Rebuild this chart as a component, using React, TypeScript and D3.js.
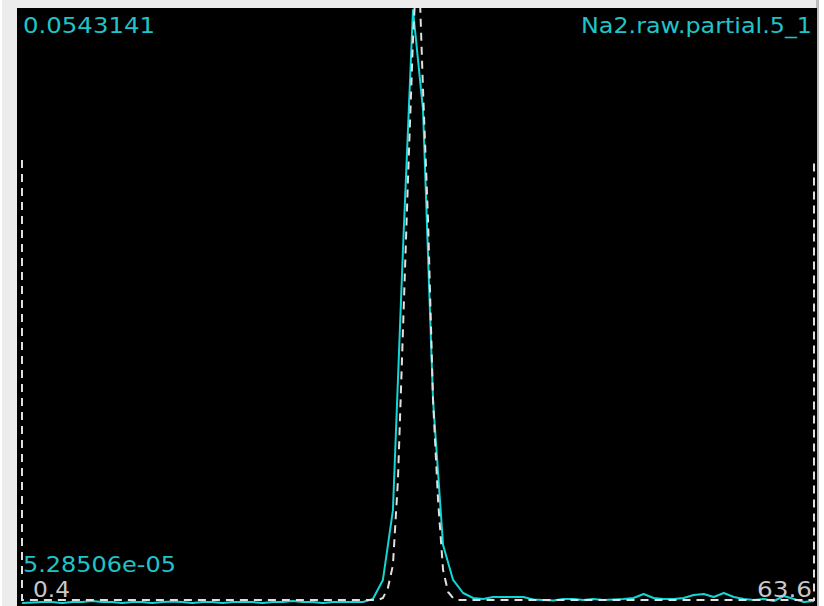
import React from "react";
import * as d3 from "d3";

// Spectrum samples (x in channel units, y in intensity)
const sampleX: number[] = Array.from({ length: 80 }, (_, i) => +(0.4 + i * 0.8).toFixed(1));
const sampleY: number[] = [
  0.0000529, 0.0000986, 0.000144, 0.000144, 0.0000529, 0.000144, 0.000144, 0.000236, 0.000144, 0.000144,
  0.0000529, 0.000144, 0.000144, 0.0000529, 0.000144, 0.00019, 0.000144, 0.0000529, 0.000144, 0.000144,
  0.0000529, 0.000144, 0.000144, 0.000144, 0.0000529, 0.000144, 0.000144, 0.000236, 0.000144, 0.000144,
  0.0000529, 0.000144, 0.000144, 0.000144, 0.000144, 0.000419, 0.00216, 0.00856, 0.0324, 0.0543141,
  0.0452, 0.0186, 0.00536, 0.00216, 0.000968, 0.00051, 0.000419, 0.000602, 0.000602, 0.000602,
  0.000602, 0.000373, 0.000327, 0.000282, 0.000419, 0.000419, 0.000327, 0.000419, 0.000327, 0.000373,
  0.000419, 0.00051, 0.000876, 0.00051, 0.000419, 0.000419, 0.00051, 0.000785, 0.000876, 0.000602,
  0.000968, 0.000602, 0.000419, 0.000327, 0.000419, 0.000236, 0.000693, 0.000419, 0.000144, 0.000236,
];

// Model curve (dashed)
const modelX: number[] = [
  0.4, 0.4, 28.8, 29.2, 29.6, 30.0, 30.4, 30.8, 31.2, 31.6, 32.0,
  32.4, 32.8, 33.2, 33.6, 34.0, 34.4, 34.8, 35.2, 63.6, 63.6,
];
const modelY: number[] = [
  0.0406, 0.000327, 0.000327, 0.00051, 0.00143, 0.00353, 0.0113, 0.025, 0.0388, 0.0516, 0.0607,
  0.047, 0.0351, 0.0186, 0.00948, 0.00307, 0.00106, 0.00051, 0.000327, 0.000327, 0.0406,
];

const xRange: [number, number] = [0.4, 63.6];
const yRange: [number, number] = [5.28506e-5, 0.0543141];
const xLabels: string[] = ["0.4", "63.6"];
const yLabels: string[] = ["5.28506e-05", "0.0543141"];
const title = "Na2.raw.partial.5_1";

const W = 824;
const H = 606;

export default function App() {
  const x = d3.scaleLinear().domain(xRange).range([22, 814]);
  const y = d3.scaleLinear().domain(yRange).range([603, 10]);

  const sampleLine = d3
    .line<number>()
    .x((_, i) => x(sampleX[i]))
    .y((d) => y(d))(sampleY) as string;

  const modelLine = d3
    .line<number>()
    .x((_, i) => x(modelX[i]))
    .y((d) => y(d))(modelY) as string;

  const font = "'DejaVu Sans', Verdana, sans-serif";
  const cyanText = "#1fc4c8";

  return (
    <svg
      width={W}
      height={H}
      style={{ position: "absolute", left: 0, top: 0, display: "block" }}
    >
      <defs>
        <clipPath id="panel">
          <rect x={17} y={8} width={800} height={H - 8} />
        </clipPath>
      </defs>
      <rect x={0} y={0} width={W} height={H} fill="#ffffff" />
      <rect x={2} y={0} width={817} height={H} fill="#ececec" />
      <rect x={816} y={0} width={3} height={H} fill="#bdbdbd" />
      <rect x={17} y={8} width={800} height={H - 8} fill="#000000" />

      <g clipPath="url(#panel)">
        <path d={sampleLine} fill="none" stroke="#12d6d6" strokeWidth={2} strokeLinejoin="round" />
        <path
          d={modelLine}
          fill="none"
          stroke="#e0e0e0"
          strokeWidth={2}
          strokeDasharray="8,6"
        />
      </g>

      <text x={23} y={33} fontFamily={font} fontSize={20.5} fill={cyanText} textLength={132} lengthAdjust="spacingAndGlyphs">
        {yLabels[1]}
      </text>
      <text x={812} y={33} fontFamily={font} fontSize={20.5} fill={cyanText} textAnchor="end" textLength={231} lengthAdjust="spacingAndGlyphs">
        {title}
      </text>
      <text x={23} y={572} fontFamily={font} fontSize={20.5} fill={cyanText} textLength={153} lengthAdjust="spacingAndGlyphs">
        {yLabels[0]}
      </text>
      <text x={33} y={597} fontFamily={font} fontSize={20.5} fill="#c8c8c8" textLength={37} lengthAdjust="spacingAndGlyphs">
        {xLabels[0]}
      </text>
      <text x={812} y={597} fontFamily={font} fontSize={20.5} fill="#c8c8c8" textAnchor="end" textLength={55} lengthAdjust="spacingAndGlyphs">
        {xLabels[1]}
      </text>
    </svg>
  );
}
